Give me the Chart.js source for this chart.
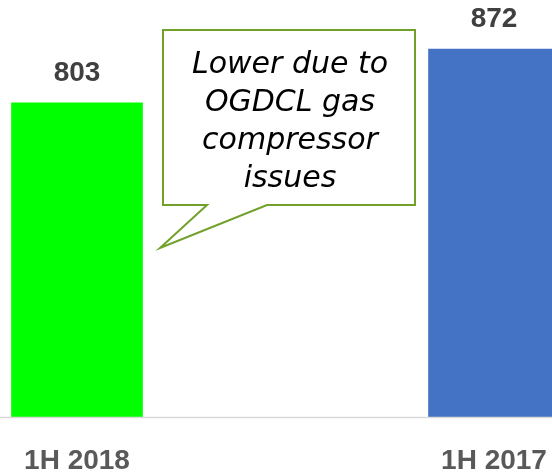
<!DOCTYPE html>
<html>
<head>
<meta charset="utf-8">
<script src="https://cdn.jsdelivr.net/npm/chart.js@4"></script>
<style>
html, body { margin: 0; padding: 0; background: #fff; }
#wrap { width: 552px; height: 473px; position: relative; }
</style>
</head>
<body>
<div id="wrap"><canvas id="chart"></canvas></div>
<script>
const periods = ['1H 2018', '1H 2017'];
const production = [803, 872];
const barColors = ['#00ff00', '#4472c4'];
const calloutLines = ['Lower due to', 'OGDCL gas', 'compressor', 'issues'];
const axisFloor = 400;

// full width base line under the bars
const baseLine = {
    id: 'baseLine',
    afterDatasetsDraw(chart) {
        const c = chart.ctx;
        const y = chart.scales.y.getPixelForValue(axisFloor) + 0.5;
        c.save();
        c.strokeStyle = '#d9d9d9';
        c.lineWidth = 1.5;
        c.beginPath();
        c.moveTo(0, y);
        c.lineTo(chart.width, y);
        c.stroke();
        c.restore();
    },
};

// value above each bar
const valueLabels = {
    id: 'valueLabels',
    afterDatasetsDraw(chart) {
        const c = chart.ctx;
        const meta = chart.getDatasetMeta(0);
        c.save();
        c.font = 'bold 28px "Liberation Sans", Arial, sans-serif';
        c.fillStyle = '#404040';
        c.textAlign = 'center';
        c.textBaseline = 'middle';
        meta.data.forEach((bar, i) => {
            c.fillText(String(production[i]), bar.x, bar.y - 30);
        });
        c.restore();
    },
};

// speech bubble comment
const callout = {
    id: 'callout',
    afterDraw(chart) {
        const c = chart.ctx;
        c.save();
        c.beginPath();
        c.moveTo(163, 30);
        c.lineTo(415, 30);
        c.lineTo(415, 205);
        c.lineTo(267, 205);
        c.lineTo(160, 248);
        c.lineTo(207, 205);
        c.lineTo(163, 205);
        c.closePath();
        c.fillStyle = '#ffffff';
        c.fill();
        c.strokeStyle = '#71a12a';
        c.lineWidth = 2;
        c.lineJoin = 'miter';
        c.stroke();

        c.fillStyle = '#000000';
        c.font = 'italic 30px "DejaVu Sans", Verdana, sans-serif';
        c.textAlign = 'center';
        c.textBaseline = 'middle';
        calloutLines.forEach((line, i) => {
            c.fillText(line, 290, 65 + i * 38);
        });
        c.restore();
    },
};

const ctx = document.getElementById('chart').getContext('2d');

new Chart(ctx, {
    type: 'bar',
    data: {
        labels: periods,
        datasets: [{
            data: production,
            backgroundColor: barColors,
            borderWidth: 0,
            barThickness: 131,
            base: axisFloor,
            clip: false,
        }],
    },
    options: {
        responsive: true,
        maintainAspectRatio: false,
        animation: false,
        layout: {
            padding: { left: 77, right: 58, top: 0, bottom: 0 },
        },
        plugins: {
            legend: { display: false },
            tooltip: { enabled: false },
        },
        scales: {
            x: {
                offset: false,
                grid: { display: false, drawTicks: false },
                border: { display: false },
                ticks: {
                    color: '#595959',
                    font: { family: '"Liberation Sans", Arial, sans-serif', size: 28, weight: 'bold', lineHeight: 1 },
                    padding: 30,
                    maxRotation: 0,
                    autoSkip: false,
                },
                afterFit(scale) {
                    scale.height = 56;
                    scale.paddingLeft = 0;
                    scale.paddingRight = 0;
                },
            },
            y: {
                display: false,
                beginAtZero: false,
                min: axisFloor,
                max: 935,
            },
        },
    },
    plugins: [baseLine, valueLabels, callout],
});
</script>
</body>
</html>
